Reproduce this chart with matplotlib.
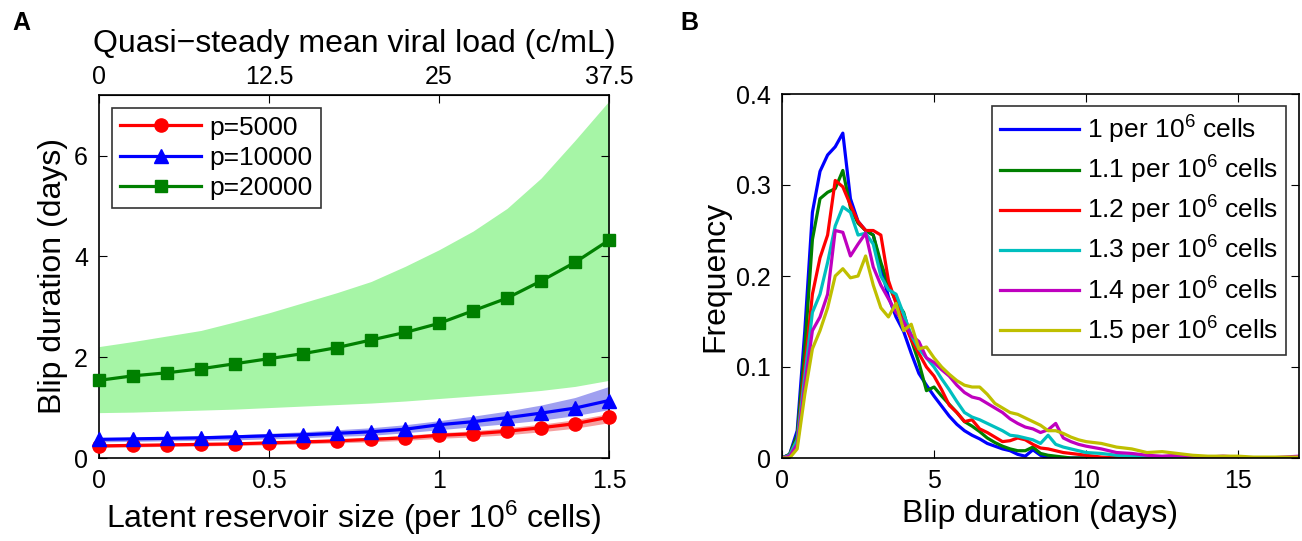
import numpy as np
import matplotlib
matplotlib.use("Agg")
import matplotlib.pyplot as plt

plt.rcParams['font.family'] = ['Liberation Sans', 'DejaVu Sans']
plt.rcParams['mathtext.default'] = 'regular'

# ---------------- Panel A data ----------------
reservoir = [0.0, 0.1, 0.2, 0.3, 0.4, 0.5, 0.6, 0.7, 0.8, 0.9, 1.0, 1.1, 1.2, 1.3, 1.4, 1.5]
p5000 = [0.24, 0.25, 0.26, 0.27, 0.28, 0.30, 0.32, 0.34, 0.37, 0.40, 0.45, 0.48, 0.53, 0.60, 0.68, 0.81]
p5000_lo = [0.21, 0.22, 0.23, 0.24, 0.25, 0.26, 0.28, 0.30, 0.32, 0.35, 0.39, 0.42, 0.46, 0.52, 0.59, 0.70]
p5000_hi = [0.27, 0.28, 0.29, 0.30, 0.31, 0.33, 0.35, 0.38, 0.41, 0.45, 0.50, 0.54, 0.60, 0.67, 0.76, 0.88]
p10000 = [0.37, 0.38, 0.39, 0.40, 0.42, 0.44, 0.46, 0.49, 0.52, 0.57, 0.66, 0.72, 0.80, 0.89, 0.99, 1.14]
p10000_lo = [0.32, 0.33, 0.34, 0.35, 0.36, 0.38, 0.40, 0.43, 0.45, 0.50, 0.56, 0.62, 0.68, 0.75, 0.84, 0.96]
p10000_hi = [0.40, 0.41, 0.42, 0.44, 0.46, 0.49, 0.52, 0.56, 0.60, 0.66, 0.74, 0.83, 0.93, 1.05, 1.20, 1.42]
p20000 = [1.54, 1.63, 1.69, 1.77, 1.87, 1.97, 2.07, 2.19, 2.34, 2.49, 2.67, 2.92, 3.17, 3.51, 3.88, 4.32]
p20000_lo = [0.90, 0.91, 0.93, 0.95, 0.97, 1.00, 1.03, 1.06, 1.09, 1.13, 1.18, 1.23, 1.28, 1.34, 1.42, 1.54]
p20000_hi = [2.21, 2.31, 2.42, 2.53, 2.70, 2.88, 3.08, 3.28, 3.50, 3.80, 4.13, 4.50, 4.95, 5.55, 6.30, 7.08]
a_labels = ['p=5000', 'p=10000', 'p=20000']
top_ticks = [0, 12.5, 25, 37.5]
top_tick_labels = ['0', '12.5', '25', '37.5']

# ---------------- Panel B data ----------------
duration = [0.0, 0.25, 0.5, 0.75, 1.0, 1.25, 1.5, 1.75, 2.0, 2.25, 2.5, 2.75, 3.0, 3.25, 3.5, 3.75,
            4.0, 4.25, 4.5, 4.75, 5.0, 5.25, 5.5, 5.75, 6.0, 6.25, 6.5, 6.75, 7.0, 7.25, 7.5, 7.75,
            8.0, 8.25, 8.5, 8.75, 9.0, 9.25, 9.5, 9.75, 10.0,
            10.5, 11.0, 11.5, 12.0, 12.5, 13.0, 13.5, 14.0, 14.5, 15.0, 15.5, 16.0, 16.5, 17.0]
freq_10 = [0, 0.004, 0.03, 0.14, 0.27, 0.315, 0.333, 0.342, 0.357, 0.285, 0.26, 0.25, 0.245, 0.21, 0.177, 0.155,
           0.139, 0.115, 0.093, 0.08, 0.068, 0.057, 0.046, 0.037, 0.030, 0.025, 0.021, 0.016, 0.013, 0.010, 0.008, 0.004,
           0.002, 0.009, 0.003, 0.0, 0.0, 0.0, 0.0, 0.0, 0.0,
           0, 0, 0, 0, 0, 0, 0, 0, 0, 0, 0, 0, 0, 0]
freq_11 = [0, 0.004, 0.025, 0.12, 0.24, 0.285, 0.292, 0.296, 0.316, 0.275, 0.258, 0.25, 0.245, 0.215, 0.19, 0.172,
           0.16, 0.13, 0.105, 0.074, 0.078, 0.068, 0.059, 0.05, 0.04, 0.035, 0.029, 0.022, 0.017, 0.013, 0.01, 0.008,
           0.008, 0.012, 0.005, 0.003, 0.002, 0.001, 0.0, 0.0, 0.0,
           0, 0, 0, 0, 0, 0, 0, 0, 0, 0, 0, 0, 0, 0]
freq_12 = [0, 0.003, 0.02, 0.1, 0.18, 0.22, 0.245, 0.305, 0.298, 0.278, 0.26, 0.25, 0.25, 0.245, 0.195, 0.17,
           0.15, 0.13, 0.115, 0.1, 0.09, 0.075, 0.058, 0.05, 0.04, 0.042, 0.032, 0.028, 0.023, 0.018, 0.019, 0.022,
           0.02, 0.015, 0.011, 0.01, 0.008, 0.006, 0.005, 0.004, 0.003,
           0.001, 0, 0, 0, 0, 0, 0, 0, 0, 0, 0, 0, 0, 0]
freq_13 = [0, 0.003, 0.02, 0.09, 0.16, 0.18, 0.215, 0.255, 0.276, 0.27, 0.245, 0.247, 0.235, 0.2, 0.185, 0.18,
           0.158, 0.135, 0.12, 0.11, 0.1, 0.087, 0.075, 0.062, 0.05, 0.045, 0.042, 0.038, 0.034, 0.03, 0.025, 0.024,
           0.022, 0.02, 0.016, 0.025, 0.015, 0.012, 0.01, 0.008, 0.006,
           0.005, 0.003, 0.002, 0.001, 0, 0, 0, 0, 0, 0, 0, 0, 0, 0]
freq_14 = [0, 0.002, 0.015, 0.08, 0.14, 0.155, 0.18, 0.25, 0.248, 0.222, 0.235, 0.247, 0.21, 0.19, 0.175, 0.16,
           0.15, 0.135, 0.128, 0.11, 0.105, 0.097, 0.09, 0.08, 0.072, 0.067, 0.065, 0.06, 0.055, 0.05, 0.043, 0.038,
           0.034, 0.032, 0.028, 0.031, 0.038, 0.022, 0.018, 0.015, 0.013,
           0.01, 0.006, 0.005, 0.003, 0.002, 0.003, 0.001, 0.001, 0.002, 0.001, 0.0, 0.0, 0.001, 0.002]
freq_15 = [0, 0.0, 0.01, 0.07, 0.12, 0.14, 0.165, 0.2, 0.208, 0.198, 0.2, 0.222, 0.19, 0.165, 0.155, 0.17,
           0.14, 0.147, 0.12, 0.122, 0.11, 0.1, 0.092, 0.085, 0.08, 0.078, 0.078, 0.07, 0.06, 0.055, 0.05, 0.048,
           0.044, 0.04, 0.036, 0.03, 0.03, 0.027, 0.023, 0.02, 0.018,
           0.016, 0.012, 0.01, 0.006, 0.007, 0.005, 0.003, 0.002, 0.002, 0.002, 0.001, 0.001, 0.001, 0.001]
b_labels = ['1 per 10$^6$ cells', '1.1 per 10$^6$ cells', '1.2 per 10$^6$ cells',
            '1.3 per 10$^6$ cells', '1.4 per 10$^6$ cells', '1.5 per 10$^6$ cells']

W, H = 1302, 541
fig = plt.figure(figsize=(W / 100, H / 100), dpi=100)

def frac(l, t, r, b):
    return [l / W, 1 - b / H, (r - l) / W, (b - t) / H]

FS_LAB = 23
FS_TICK = 18
FS_LEG = 19

# ---------------- Panel A ----------------
axA = fig.add_axes(frac(99, 95, 609, 458))
axA.fill_between(reservoir, p20000_lo, p20000_hi, color='#a6f5a6', lw=0)
axA.fill_between(reservoir, p10000_lo, p10000_hi, color='#a0a0f0', lw=0)
axA.fill_between(reservoir, p5000_lo, p5000_hi, color='#f5a0a0', lw=0)
axA.plot(reservoir, p5000, '-o', color='#ff0000', lw=2.3, ms=9.5, label=a_labels[0], clip_on=False, zorder=5)
axA.plot(reservoir, p10000, '-^', color='#0000ff', lw=2.3, ms=10.5, label=a_labels[1], clip_on=False, zorder=5)
axA.plot(reservoir, p20000, '-s', color='#008000', lw=2.3, ms=8.5, label=a_labels[2], clip_on=False, zorder=5)
axA.set_xlim(0, 1.5)
axA.set_ylim(0, 7.2)
axA.set_xticks([0, 0.5, 1, 1.5])
axA.set_xticklabels(['0', '0.5', '1', '1.5'])
axA.set_yticks([0, 2, 4, 6])
axA.tick_params(direction='in', length=6, labelsize=FS_TICK, right=True, pad=8)
axA.set_xlabel('Latent reservoir size (per 10$^6$ cells)', fontsize=FS_LAB, labelpad=4)
axA.set_ylabel('Blip duration (days)', fontsize=FS_LAB, labelpad=4)
sec = axA.secondary_xaxis('top', functions=(lambda x: x * 25, lambda v: v / 25))
sec.set_xticks(top_ticks)
sec.set_xticklabels(top_tick_labels)
sec.tick_params(direction='in', length=6, labelsize=FS_TICK, pad=4)
sec.set_xlabel('Quasi\u2212steady mean viral load (c/mL)', fontsize=FS_LAB, labelpad=10)
legA = axA.legend(loc='upper left', bbox_to_anchor=(0.025, 0.965), fontsize=FS_LEG,
                  frameon=True, fancybox=False, edgecolor='black', handlelength=3.1,
                  borderpad=0.3, labelspacing=0.24, handletextpad=0.3, borderaxespad=0)
legA.get_frame().set_linewidth(1.2)
for s in axA.spines.values():
    s.set_linewidth(1.2)

# ---------------- Panel B ----------------
axB = fig.add_axes(frac(782, 94, 1299, 458))
colors = ['#0000ff', '#008000', '#ff0000', '#00bfbf', '#bf00bf', '#bfbf00']
for series, c, lab in zip([freq_10, freq_11, freq_12, freq_13, freq_14, freq_15], colors, b_labels):
    axB.plot(duration, series, color=c, lw=2.3, label=lab)
axB.set_xlim(0, 17)
axB.set_ylim(0, 0.4)
axB.set_xticks([0, 5, 10, 15])
axB.set_yticks([0, 0.1, 0.2, 0.3, 0.4])
axB.set_yticklabels(['0', '0.1', '0.2', '0.3', '0.4'])
axB.tick_params(direction='in', length=6, labelsize=FS_TICK, right=True, top=True, pad=8)
axB.set_xlabel('Blip duration (days)', fontsize=FS_LAB, labelpad=4)
axB.set_ylabel('Frequency', fontsize=FS_LAB, labelpad=4)
legB = axB.legend(loc='upper right', bbox_to_anchor=(0.975, 0.967), fontsize=FS_LEG,
                  frameon=True, fancybox=False, edgecolor='black', handlelength=3.0,
                  borderpad=0.3, labelspacing=0.3, handletextpad=0.3, borderaxespad=0)
legB.get_frame().set_linewidth(1.2)
for s in axB.spines.values():
    s.set_linewidth(1.2)

fig.text(12 / W, 1 - 30 / H, 'A', fontsize=18, fontweight='bold', va='baseline')
fig.text(680 / W, 1 - 30 / H, 'B', fontsize=18, fontweight='bold', va='baseline')

fig.savefig('out.png', dpi=100)
